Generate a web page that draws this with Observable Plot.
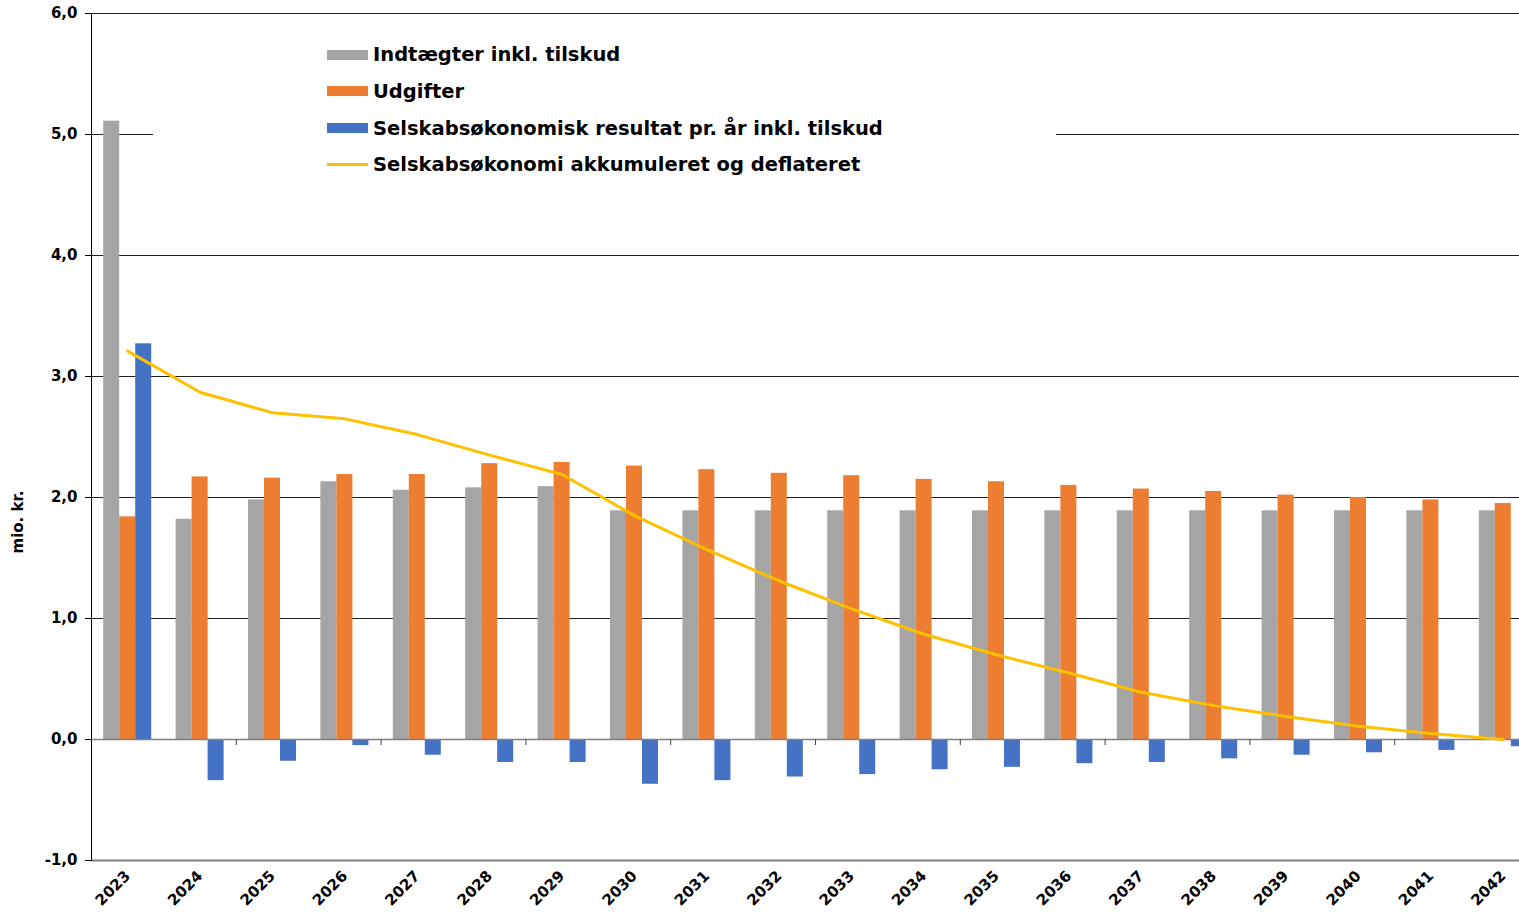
<!DOCTYPE html>
<html>
<head>
<meta charset="utf-8">
<script src="https://cdn.jsdelivr.net/npm/d3@7"></script>
<script src="https://cdn.jsdelivr.net/npm/@observablehq/plot@0.6"></script>
<style>
html, body { margin: 0; padding: 0; background: #fff; overflow: hidden; }
#wrap { position: relative; width: 1519px; height: 915px; font-family: "DejaVu Sans", Verdana, sans-serif; overflow: hidden; }
#wrap svg { position: absolute; left: 0; top: 0; }
#legend { position: absolute; left: 153px; top: 28px; width: 903px; height: 155px; background: #fff; }
.item { position: absolute; left: 174px; height: 20px; display: flex; align-items: center; font-weight: bold; font-size: 19.5px; color: #000; white-space: nowrap; }
.sw { width: 41px; margin-right: 5px; flex: none; }
#ylabel { position: absolute; left: 18px; top: 522px; transform: translate(-50%, -50%) rotate(-90deg); font-size: 15px; font-weight: bold; color: #000; white-space: nowrap; }
</style>
</head>
<body>
<div id="wrap"></div>
<script>
// ---- data ----
const years = ["2023","2024","2025","2026","2027","2028","2029","2030","2031","2032","2033","2034","2035","2036","2037","2038","2039","2040","2041","2042"];
const income = [5.11, 1.82, 1.98, 2.13, 2.06, 2.08, 2.09, 1.89, 1.89, 1.89, 1.89, 1.89, 1.89, 1.89, 1.89, 1.89, 1.89, 1.89, 1.89, 1.89];
const expenses = [1.84, 2.17, 2.16, 2.19, 2.19, 2.28, 2.29, 2.26, 2.23, 2.20, 2.18, 2.15, 2.13, 2.10, 2.07, 2.05, 2.02, 2.00, 1.98, 1.95];
const result = [3.27, -0.34, -0.18, -0.05, -0.13, -0.19, -0.19, -0.37, -0.34, -0.31, -0.29, -0.25, -0.23, -0.20, -0.19, -0.16, -0.13, -0.11, -0.09, -0.06];
const accumulated = [3.21, 2.87, 2.70, 2.65, 2.52, 2.35, 2.19, 1.85, 1.57, 1.31, 1.08, 0.87, 0.70, 0.55, 0.39, 0.28, 0.19, 0.11, 0.05, 0.00];
const seriesNames = ["Indtægter inkl. tilskud", "Udgifter", "Selskabsøkonomisk resultat pr. år inkl. tilskud", "Selskabsøkonomi akkumuleret og deflateret"];
const seriesColors = ["#A5A5A5", "#ED7D31", "#4472C4", "#FFC000"];
const yTicks = [-1, 0, 1, 2, 3, 4, 5, 6];
const gridValues = [1, 2, 3, 4, 5, 6];
const yLabel = "mio. kr.";
// the category axis on the zero line carries a small tick after every second year
const tickYears = years.filter((d, i) => i % 2 === 1);

const data = years.map((y, i) => ({year: y, income: income[i], expenses: expenses[i], result: result[i], acc: accumulated[i]}));
const fmt = d => d.toFixed(1).replace(".", ",");

const bandInset = 28.2;
const plot = Plot.plot({
  width: 1519,
  height: 915,
  marginLeft: 91,
  marginRight: 0,
  marginTop: 13,
  marginBottom: 55,
  style: {fontFamily: "'DejaVu Sans', Verdana, sans-serif", background: "transparent", color: "#000"},
  x: {type: "band", domain: years, range: [91, 1539], padding: 0, round: false},
  y: {domain: [-1, 6]},
  marks: [
    Plot.ruleY(gridValues, {stroke: "#222", strokeWidth: 1}),
    Plot.barY(data, {x: "year", y: "income", fill: seriesColors[0], dx: -16, insetLeft: bandInset, insetRight: bandInset}),
    Plot.barY(data, {x: "year", y: "expenses", fill: seriesColors[1], dx: 0, insetLeft: bandInset, insetRight: bandInset}),
    Plot.barY(data, {x: "year", y: "result", fill: seriesColors[2], dx: 16, insetLeft: bandInset, insetRight: bandInset}),
    Plot.ruleY([0], {stroke: "#808080", strokeWidth: 1.5}),
    Plot.ruleX(tickYears, {x: d => d, y1: () => 0, y2: () => 0, insetBottom: -6, dx: 36.2, stroke: "#444", strokeWidth: 1}),
    Plot.ruleY([-1], {stroke: "#7f7f7f", strokeWidth: 2}),
    Plot.lineY(data, {x: "year", y: "acc", stroke: seriesColors[3], strokeWidth: 3}),
    Plot.axisY({ticks: yTicks, tickSize: 6, tickPadding: 8, tickFormat: fmt, fontSize: 15, fontWeight: "bold", label: null, stroke: "#000"}),
    Plot.axisX({tickRotate: -45, tickSize: 0, tickPadding: 13, fontSize: 15, fontWeight: "bold", label: null}),
    Plot.frame({anchor: "left", stroke: "#000"})
  ]
});

const wrap = document.getElementById("wrap");
wrap.appendChild(plot);

// legend overlay
const legend = document.createElement("div");
legend.id = "legend";
const rowCenters = [26.7, 63.3, 100, 136];
seriesNames.forEach((name, i) => {
  const item = document.createElement("div");
  item.className = "item";
  item.style.top = (rowCenters[i] - 10) + "px";
  const sw = document.createElement("div");
  sw.className = "sw";
  sw.style.background = seriesColors[i];
  sw.style.height = i === 3 ? "3px" : "10px";
  const t = document.createElement("span");
  t.textContent = name;
  item.appendChild(sw);
  item.appendChild(t);
  legend.appendChild(item);
});
wrap.appendChild(legend);

const yl = document.createElement("div");
yl.id = "ylabel";
yl.textContent = yLabel;
wrap.appendChild(yl);
</script>
</body>
</html>
